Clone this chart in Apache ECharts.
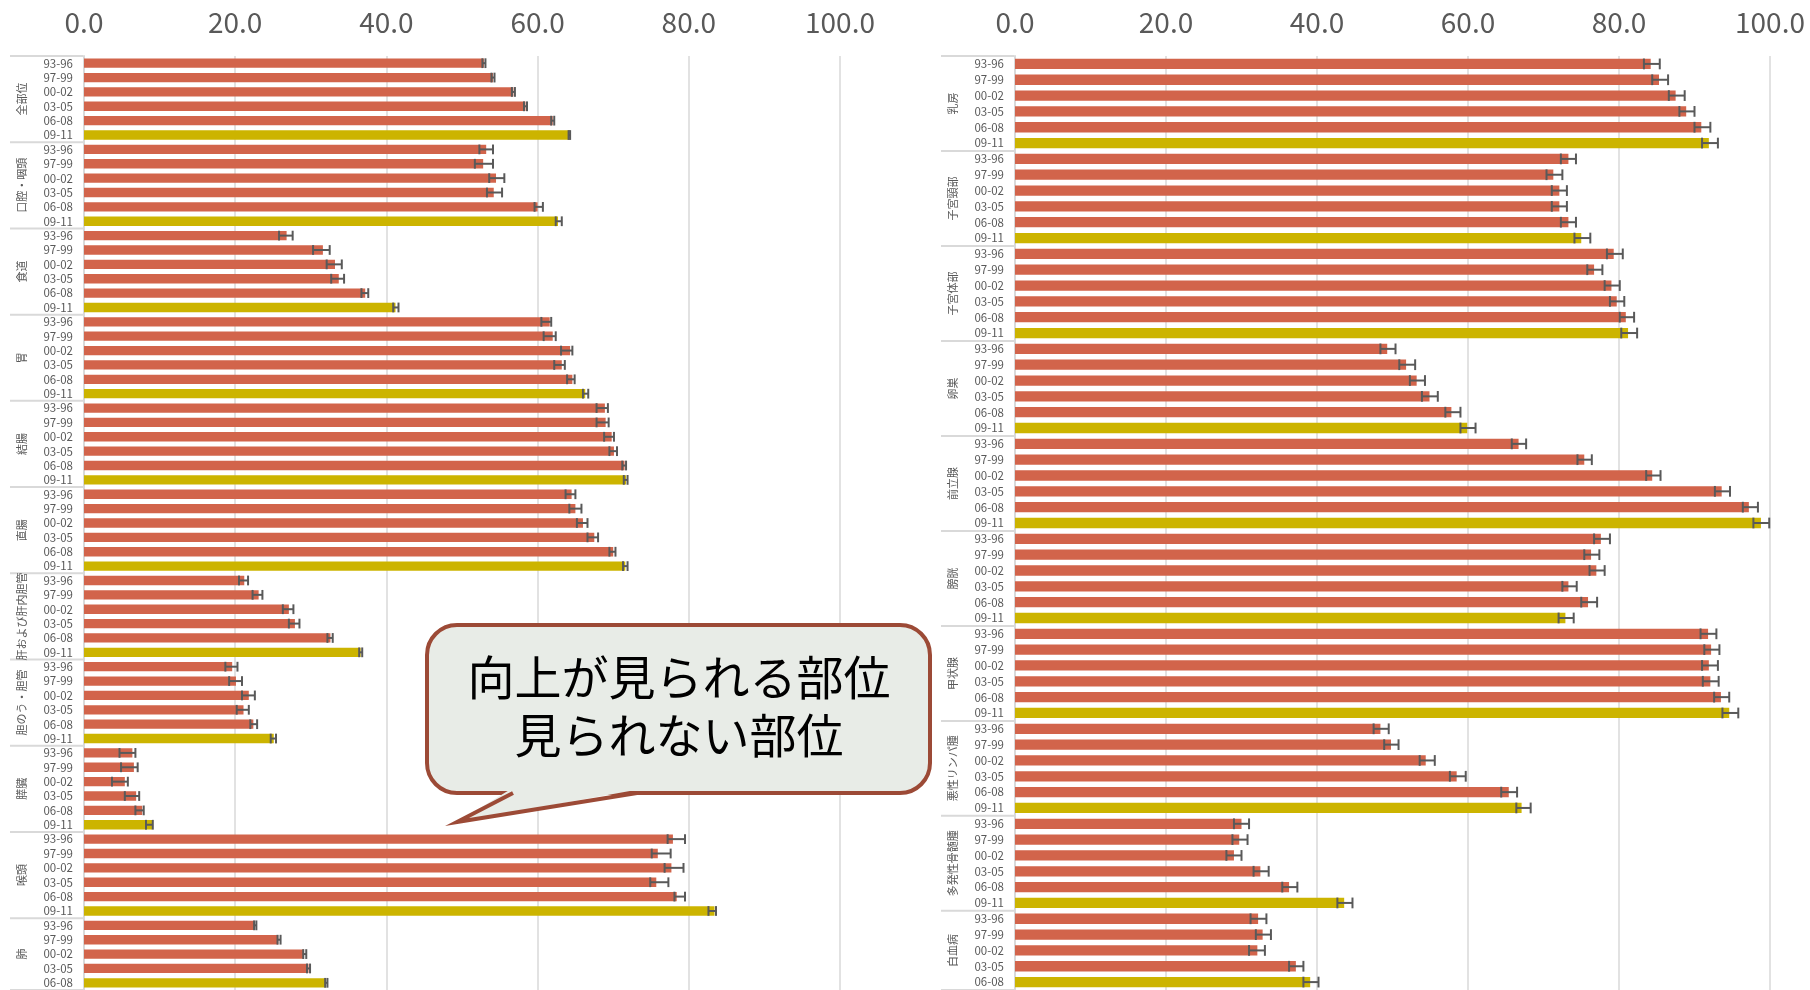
<!DOCTYPE html>
<html>
<head>
<meta charset="utf-8">
<script src="https://cdn.jsdelivr.net/npm/echarts@6/dist/echarts.min.js"></script>
<style>
html,body{margin:0;padding:0;background:#fff;}
#c{width:1810px;height:990px;}
</style>
</head>
<body>
<div id="c"></div>
<script>
// ---- data ----
const periods = ['93-96','97-99','00-02','03-05','06-08','09-11'];
const xTicks = [0, 20, 40, 60, 80, 100];

const leftSites = ['全部位','口腔・咽頭','食道','胃','結腸','直腸','肝および肝内胆管','胆のう・胆管','膵臓','喉頭','肺'];
const leftVal = [
  [52.9,54.1,56.8,58.4,62.0,64.2],
  [53.2,52.8,54.5,54.2,60.0,62.7],
  [26.8,31.6,33.2,33.7,37.2,41.2],
  [61.6,62.0,64.3,63.2,64.6,66.3],
  [68.9,69.0,69.8,70.1,71.5,71.7],
  [64.5,65.0,66.0,67.5,70.0,71.6],
  [21.2,23.1,27.1,27.9,32.6,36.6],
  [19.6,20.1,21.8,21.1,22.4,25.1],
  [6.4,6.6,5.4,6.9,7.7,9.0],
  [77.9,75.9,77.7,75.7,78.4,83.4],
  [22.6,25.7,29.1,29.7,32.0]
];
const leftLow = [
  [52.7,53.9,56.6,58.2,61.8,64.1],
  [52.3,51.7,53.6,53.3,59.6,62.4],
  [25.8,30.3,32.1,32.7,36.7,40.9],
  [60.5,60.8,63.1,62.2,63.9,66.0],
  [67.8,67.8,68.8,69.5,71.2,71.4],
  [63.7,64.2,65.2,66.6,69.5,71.3],
  [20.5,22.3,26.3,27.1,32.2,36.4],
  [18.7,19.2,20.9,20.2,22.0,24.7],
  [4.7,4.9,3.7,5.4,6.8,8.2],
  [77.2,75.1,76.8,74.9,78.1,82.6],
  [22.5,25.6,29.0,29.5,31.9]
];
const leftHigh = [
  [53.1,54.3,57.0,58.6,62.2,64.3],
  [54.1,54.1,55.6,55.3,60.7,63.2],
  [27.6,32.5,34.1,34.4,37.6,41.6],
  [61.8,62.4,64.6,63.6,64.9,66.7],
  [69.3,69.4,70.1,70.5,71.7,71.9],
  [65.0,65.8,66.6,68.0,70.3,71.9],
  [21.7,23.6,27.7,28.5,32.9,36.8],
  [20.3,20.9,22.6,21.8,22.9,25.4],
  [6.8,7.1,5.8,7.3,7.9,9.1],
  [79.5,77.6,79.3,77.3,79.5,83.6],
  [22.8,26.0,29.4,29.9,32.2]
];

const rightSites = ['乳房','子宮頸部','子宮体部','卵巣','前立腺','膀胱','甲状腺','悪性リンパ腫','多発性骨髄腫','白血病'];
const rightVal = [
  [84.2,85.3,87.5,88.9,90.9,91.9],
  [73.3,71.3,72.1,72.1,73.3,75.0],
  [79.3,76.7,79.0,79.7,80.9,81.2],
  [49.3,51.8,53.2,54.9,57.8,59.9],
  [66.7,75.4,84.4,93.6,97.2,98.8],
  [77.6,76.3,77.0,73.3,75.9,72.9],
  [91.8,92.2,91.9,92.1,93.5,94.6],
  [48.4,49.8,54.4,58.5,65.4,67.1],
  [30.0,29.7,29.0,32.5,36.3,43.6],
  [32.2,32.8,32.1,37.2,39.1]
];
const rightLow = [
  [83.3,84.4,86.6,88.0,90.0,91.0],
  [72.3,70.4,71.1,71.1,72.3,74.1],
  [78.4,75.8,78.1,78.8,80.1,80.3],
  [48.4,50.9,52.3,53.9,57.0,59.0],
  [65.8,74.5,83.6,92.7,96.4,97.8],
  [76.7,75.4,76.1,72.5,75.0,72.0],
  [90.8,91.3,91.0,91.1,92.6,93.7],
  [47.5,48.9,53.6,57.6,64.4,66.4],
  [29.0,28.8,28.0,31.6,35.4,42.7],
  [31.2,31.9,31.0,36.3,38.2]
];
const rightHigh = [
  [85.4,86.5,88.7,90.0,92.1,93.1],
  [74.3,72.5,73.1,73.1,74.3,76.2],
  [80.5,77.8,80.1,80.7,82.0,82.4],
  [50.4,53.0,54.3,56.0,59.0,61.0],
  [67.7,76.4,85.5,94.7,98.4,99.9],
  [78.8,77.4,78.1,74.4,77.1,74.0],
  [92.9,93.3,93.1,93.2,94.6,95.8],
  [49.5,50.8,55.6,59.7,66.5,68.3],
  [31.0,30.8,30.0,33.6,37.4,44.7],
  [33.3,33.9,33.1,38.2,40.2]
];

const calloutLines = ['向上が見られる部位', '見られない部位'];

// ---- styles ----
const ORANGE = '#D2644B';
const YELLOW = '#CCB400';
const ERR = '#595959';
const GRIDC = '#D9D9D9';
const TXT = '#595959';
const FONT = '"Noto Sans CJK JP", "Noto Sans", sans-serif';

function buildPanel(sites, vals, lows, highs) {
  const cats = [], bars = [], errs = [], groups = [];
  sites.forEach((s, gi) => {
    const n = vals[gi].length;
    const start = cats.length;
    for (let k = 0; k < n; k++) {
      cats.push(periods[k]);
      bars.push({ value: vals[gi][k], itemStyle: { color: k === n - 1 ? YELLOW : ORANGE } });
      errs.push([lows[gi][k], highs[gi][k], cats.length - 1]);
    }
    groups.push([0, start, cats.length - 1]);
  });
  return { cats, bars, errs, groups, sites };
}

const L = buildPanel(leftSites, leftVal, leftLow, leftHigh);
const R = buildPanel(rightSites, rightVal, rightLow, rightHigh);

function renderErr(params, api) {
  const lo = api.coord([api.value(0), api.value(2)]);
  const hi = api.coord([api.value(1), api.value(2)]);
  const h = api.size([0, 1])[1] * 0.34;
  const st = { stroke: ERR, lineWidth: 2 };
  return {
    type: 'group',
    children: [
      { type: 'line', shape: { x1: lo[0], y1: lo[1], x2: hi[0], y2: hi[1] }, style: st },
      { type: 'line', shape: { x1: lo[0], y1: lo[1] - h, x2: lo[0], y2: lo[1] + h }, style: st },
      { type: 'line', shape: { x1: hi[0], y1: hi[1] - h, x2: hi[0], y2: hi[1] + h }, style: st }
    ]
  };
}

function makeGroupRenderer(panel) {
  return function (params, api) {
    const start = api.value(1), end = api.value(2);
    const band = api.size([0, 1])[1];
    const p0 = api.coord([0, start]);
    const p1 = api.coord([0, end]);
    const yTop = p0[1] - band / 2;
    const yBot = p1[1] + band / 2;
    const ax = p0[0];
    const children = [];
    const ls = { stroke: GRIDC, lineWidth: 2 };
    if (start === 0) {
      children.push({ type: 'line', shape: { x1: ax - 74, y1: yTop, x2: ax - 1, y2: yTop }, style: ls });
    }
    children.push({ type: 'line', shape: { x1: ax - 74, y1: yBot, x2: ax - 1, y2: yBot }, style: ls });
    children.push({
      type: 'text',
      x: ax - 62, y: (yTop + yBot) / 2,
      rotation: Math.PI / 2,
      style: {
        text: panel.sites[params.dataIndex],
        x: 0, y: 0,
        align: 'center', verticalAlign: 'middle',
        fontSize: 11, fontFamily: FONT, fill: TXT
      }
    });
    return { type: 'group', children };
  };
}

const chart = echarts.init(document.getElementById('c'), null, { renderer: 'canvas' });

function xAxisCfg(gi) {
  return {
    type: 'value', gridIndex: gi, position: 'top',
    min: xTicks[0], max: xTicks[xTicks.length - 1], interval: xTicks[1] - xTicks[0],
    axisLine: { show: false }, axisTick: { show: false },
    splitLine: { show: true, lineStyle: { color: GRIDC, width: 1.5 } },
    axisLabel: {
      formatter: v => v.toFixed(1), fontSize: 28, color: TXT, fontFamily: FONT, margin: 20
    }
  };
}
function yAxisCfg(gi, panel) {
  return {
    type: 'category', gridIndex: gi, inverse: true, data: panel.cats,
    axisTick: { show: false },
    axisLine: { show: true, lineStyle: { color: GRIDC, width: 2 } },
    axisLabel: { interval: 0, fontSize: 11.5, color: TXT, fontFamily: FONT, margin: 11 }
  };
}

// callout (annotation shape)
const cb = { l: 427, t: 625, r: 930, b: 793, rad: 30 };
const tail = { bx1: 513, bx2: 637, tx: 457, ty: 822 };
const CALL_FILL = '#E8ECE7', CALL_STROKE = '#9C4A36';

chart.setOption({
  animation: false,
  backgroundColor: '#ffffff',
  grid: [
    { left: 84, top: 56, width: 756, height: 934 },
    { left: 1015, top: 56, width: 755, height: 934 }
  ],
  xAxis: [xAxisCfg(0), xAxisCfg(1)],
  yAxis: [yAxisCfg(0, L), yAxisCfg(1, R)],
  series: [
    { type: 'bar', xAxisIndex: 0, yAxisIndex: 0, data: L.bars, barWidth: '65%', z: 2 },
    { type: 'custom', xAxisIndex: 0, yAxisIndex: 0, data: L.errs, encode: { x: [0, 1], y: 2 }, renderItem: renderErr, z: 3, silent: true, clip: false },
    { type: 'custom', xAxisIndex: 0, yAxisIndex: 0, data: L.groups, encode: { x: 0, y: [1, 2] }, renderItem: makeGroupRenderer(L), z: 3, silent: true, clip: false },
    { type: 'bar', xAxisIndex: 1, yAxisIndex: 1, data: R.bars, barWidth: '65%', z: 2 },
    { type: 'custom', xAxisIndex: 1, yAxisIndex: 1, data: R.errs, encode: { x: [0, 1], y: 2 }, renderItem: renderErr, z: 3, silent: true, clip: false },
    { type: 'custom', xAxisIndex: 1, yAxisIndex: 1, data: R.groups, encode: { x: 0, y: [1, 2] }, renderItem: makeGroupRenderer(R), z: 3, silent: true, clip: false }
  ],
  graphic: [
    {
      type: 'rect', z: 100,
      shape: { x: cb.l, y: cb.t, width: cb.r - cb.l, height: cb.b - cb.t, r: cb.rad },
      style: { fill: CALL_FILL, stroke: CALL_STROKE, lineWidth: 4 }
    },
    {
      type: 'polygon', z: 101,
      shape: { points: [[tail.bx1 - 2, cb.b - 4], [tail.tx, tail.ty], [tail.bx2 + 4, cb.b - 4]] },
      style: { fill: CALL_FILL }
    },
    {
      type: 'polyline', z: 102,
      shape: { points: [[tail.bx1, cb.b], [tail.tx, tail.ty], [tail.bx2, cb.b]] },
      style: { stroke: CALL_STROKE, lineWidth: 4, fill: null, lineJoin: 'miter' }
    },
    {
      type: 'text', z: 103, x: 679, y: 706,
      style: {
        text: calloutLines.join('\n'),
        x: 0, y: 0,
        align: 'center', verticalAlign: 'middle',
        fontSize: 47, lineHeight: 58, fontFamily: FONT, fill: '#000000'
      }
    }
  ]
});
</script>
</body>
</html>
